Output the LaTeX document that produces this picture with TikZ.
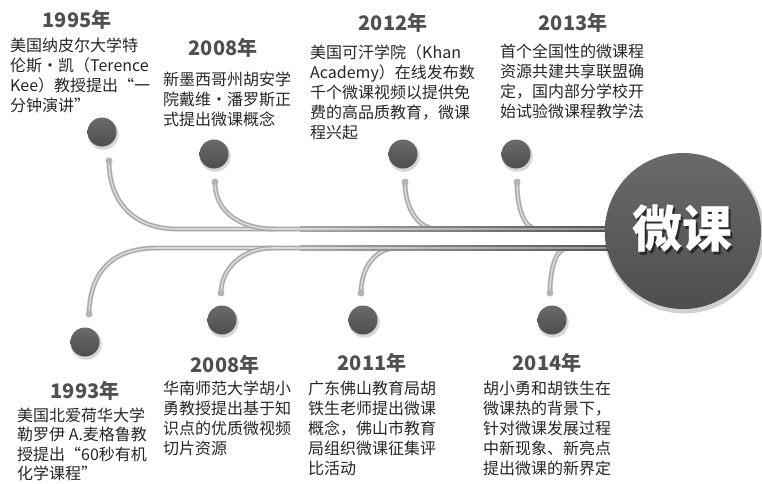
\documentclass[tikz,border=0pt]{standalone}
\usepackage{fontspec}
\setmainfont{Noto Sans CJK SC}
\usetikzlibrary{calc}
\definecolor{dotT}{HTML}{6A6A6A}
\definecolor{dotB}{HTML}{4E4E4E}
\definecolor{endc}{HTML}{B4B4B4}
\definecolor{tubeO}{HTML}{A8A8A8}
\definecolor{tubeI}{HTML}{DADADA}
\definecolor{tubeD}{HTML}{4C4C4C}
\definecolor{tubeDI}{HTML}{8E8E8E}
\definecolor{yearc}{HTML}{505050}
\definecolor{txtc}{HTML}{262626}
\definecolor{hubsh}{HTML}{2A2A2A}
\begin{document}
\begin{tikzpicture}[x=1pt,y=-1pt,
  bigdot/.style={circle, minimum size=29pt, inner sep=0pt, top color=dotT, bottom color=dotB, draw=none},
  enddot/.style={circle, minimum size=7pt, inner sep=0pt, fill=endc, draw=none},
  yearlbl/.style={font=\fontsize{20}{24}\selectfont\bfseries, text=yearc, inner sep=0pt},
  txt/.style={font=\fontsize{16}{20}\selectfont, text=txtc, inner sep=0pt, anchor=base west},
  tube/.style={draw=tubeO, double=tubeI, double distance=1.6pt, line width=1.4pt},
  tubeshadow/.style={draw=black, opacity=0.10, line width=5.5pt},
  dotshadow/.style={fill=black, opacity=0.16}
]
\useasboundingbox (0,0) rectangle (762,483);

% named coordinates
\coordinate (hubc) at (683,231);
\coordinate (jt1) at (177,229);
\coordinate (jt2) at (275,229);
\coordinate (jt3) at (437,229);
\coordinate (jt4) at (537,229);
\coordinate (jb1) at (157,248);
\coordinate (jb2) at (273,248);
\coordinate (jb3) at (397,248);
\coordinate (jb4) at (568,248);
\coordinate (e1995) at (109,161);
\coordinate (e2008a) at (215,182);
\coordinate (e2012) at (405,182);
\coordinate (e2013) at (517,182);
\coordinate (e1993) at (89,314);
\coordinate (e2008b) at (221,293);
\coordinate (e2011) at (361,293);
\coordinate (e2014) at (550,293);

% tube shadows
\begin{scope}[shift={(1,2)}]
\draw[tubeshadow] (e1995) .. controls +(0,42) and +(-42,0) .. (jt1) -- (jt1 -| hubc);
\draw[tubeshadow] (e2008a) .. controls +(0,30) and +(-35,0) .. (jt2);
\draw[tubeshadow] (e2012) .. controls +(0,28) and +(-18,0) .. (jt3);
\draw[tubeshadow] (e2013) .. controls +(0,28) and +(-12,0) .. (jt4);
\draw[tubeshadow] (e1993) .. controls +(1,-45) and +(-42,0) .. (jb1) -- (jb1 -| hubc);
\draw[tubeshadow] (e2008b) .. controls +(0,-25) and +(-30,0) .. (jb2);
\draw[tubeshadow] (e2011) .. controls +(0,-25) and +(-22,0) .. (jb3);
\draw[tubeshadow] (e2014) .. controls +(0,-25) and +(-12,0) .. (jb4);
\end{scope}

% tubes
\draw[tube] (e1995) .. controls +(0,42) and +(-42,0) .. (jt1) -- (jt1 -| hubc);
\draw[tube] (e1993) .. controls +(1,-45) and +(-42,0) .. (jb1) -- (jb1 -| hubc);
\draw[tube] (e2008a) .. controls +(0,30) and +(-35,0) .. (jt2) -- +(20,0);
\draw[tube] (e2012) .. controls +(0,28) and +(-18,0) .. (jt3) -- +(20,0);
\draw[tube] (e2013) .. controls +(0,28) and +(-12,0) .. (jt4) -- +(20,0);
\draw[tube] (e2008b) .. controls +(0,-25) and +(-30,0) .. (jb2) -- +(20,0);
\draw[tube] (e2011) .. controls +(0,-25) and +(-22,0) .. (jb3) -- +(20,0);
\draw[tube] (e2014) .. controls +(0,-25) and +(-12,0) .. (jb4) -- +(20,0);

% darker gradient near the hub
\shade[left color=tubeO, right color=tubeD] (300,226.8) rectangle (640,231.2);
\shade[left color=tubeI, right color=tubeDI] (300,228.3) rectangle (640,229.7);
\shade[left color=tubeO, right color=tubeD] (300,245.8) rectangle (640,250.2);
\shade[left color=tubeI, right color=tubeDI] (300,247.3) rectangle (640,248.7);

% end dots
\foreach \e in {e1995,e2008a,e2012,e2013,e1993,e2008b,e2011,e2014}
  \node[enddot] (\e-dot) at (\e) {};

% big dots with shadows
\foreach \n/\x/\y in {d1995/102/132, d2008a/214/154, d2012/403/154, d2013/516/154,
                      d1993/85/342, d2008b/222/320, d2011/363/320, d2014/552/320}{
  \fill[dotshadow] (\x+1.2,\y+2.2) circle[radius=15.5pt];
  \node[bigdot] (\n) at (\x,\y) {};
}

% hub
\fill[black, opacity=0.18] ($(hubc)+(1.5,2.5)$) circle[radius=80pt];
\node[circle, minimum size=156pt, inner sep=0pt, top color=dotT, bottom color=dotB] (hub) at (hubc) {};
\node[font=\fontsize{50}{50}\selectfont\bfseries, inner sep=0pt] (hubtext) at ($(hubc)+(-1,-1)$)
  {\makebox[0pt][l]{\hspace{2.5pt}\raisebox{-2.5pt}{\textcolor{hubsh}{微课}}}\textcolor{white}{微课}};

% year labels
\node[yearlbl] (y1995) at (77,20) {1995年};
\node[yearlbl] (y2008a) at (223,48) {2008年};
\node[yearlbl] (y2012) at (393,23) {2012年};
\node[yearlbl] (y2013) at (573,23) {2013年};
\node[yearlbl] (y1993) at (85,391) {1993年};
\node[yearlbl] (y2008b) at (225,365) {2008年};
\node[yearlbl] (y2011) at (372,363) {2011年};
\node[yearlbl] (y2014) at (547,363) {2014年};

% text blocks
\foreach \l [count=\i from 0] in {{美国纳皮尔大学特},{伦斯・凯（Terence},{Kee）教授提出“一},{分钟演讲”}}
  \node[txt] (t1995-\i) at (10,51+20*\i) {\l};
\foreach \l [count=\i from 0] in {{新墨西哥州胡安学},{院戴维・潘罗斯正},{式提出微课概念}}
  \node[txt] (t2008a-\i) at (163,85+20*\i) {\l};
\foreach \l [count=\i from 0] in {{美国可汗学院（Khan},{Academy）在线发布数},{千个微课视频以提供免},{费的高品质教育，微课},{程兴起}}
  \node[txt] (t2012-\i) at (310,58+20*\i) {\l};
\foreach \l [count=\i from 0] in {{首个全国性的微课程},{资源共建共享联盟确},{定，国内部分学校开},{始试验微课程教学法}}
  \node[txt] (t2013-\i) at (500,57+20*\i) {\l};
\foreach \l [count=\i from 0] in {{美国北爱荷华大学},{勒罗伊 A.麦格鲁教},{授提出“60秒有机},{化学课程”}}
  \node[txt] (t1993-\i) at (17,421+19.5*\i) {\l};
\foreach \l [count=\i from 0] in {{华南师范大学胡小},{勇教授提出基于知},{识点的优质微视频},{切片资源}}
  \node[txt] (t2008b-\i) at (163,394+20*\i) {\l};
\foreach \l [count=\i from 0] in {{广东佛山教育局胡},{铁生老师提出微课},{概念，佛山市教育},{局组织微课征集评},{比活动}}
  \node[txt] (t2011-\i) at (308,394+20*\i) {\l};
\foreach \l [count=\i from 0] in {{胡小勇和胡铁生在},{微课热的背景下，},{针对微课发展过程},{中新现象、新亮点},{提出微课的新界定}}
  \node[txt] (t2014-\i) at (483,394+20*\i) {\l};
\end{tikzpicture}
\end{document}
